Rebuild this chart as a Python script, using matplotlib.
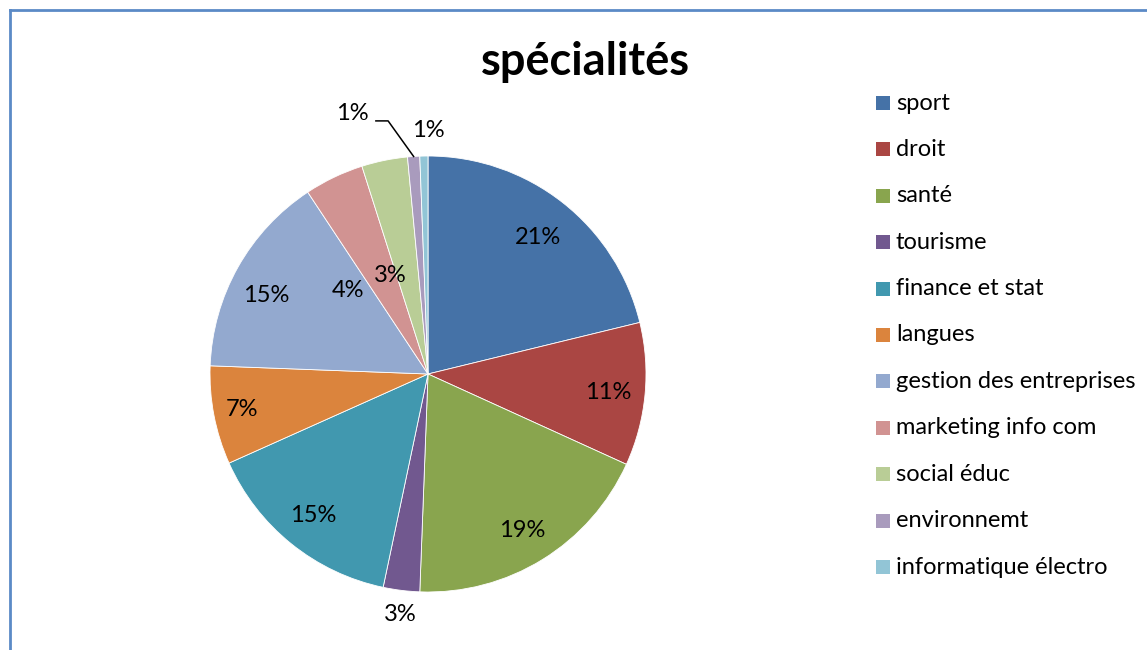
import matplotlib
matplotlib.use("Agg")
import matplotlib.pyplot as plt
from matplotlib.patches import Rectangle
from matplotlib.lines import Line2D
import numpy as np

plt.rcParams['font.family'] = ['Lato', 'DejaVu Sans']

# data (percent)
categories = ["sport", "droit", "santé", "tourisme", "finance et stat", "langues",
              "gestion des entreprises", "marketing info com", "social éduc",
              "environnemt", "informatique électro"]
values = [21.2, 10.6, 18.8, 2.7, 15.0, 7.3, 15.1, 4.4, 3.4, 0.9, 0.6]
shown = ["21%", "11%", "19%", "3%", "15%", "7%", "15%", "4%", "3%", "1%", "1%"]

colors = ["#4572A7", "#AA4643", "#89A54E", "#71588F", "#4198AF", "#DB843D",
          "#93A9CF", "#D19392", "#B9CD96", "#A99BBD", "#92C5D6"]

# label positions in pie radius units (as Excel placed them)
label_pos = [(0.505, 0.628), (0.826, -0.083), (0.431, -0.716), (-0.128, -1.101),
             (-0.528, -0.651), (-0.853, -0.165), (-0.743, 0.358), (-0.367, 0.381),
             (-0.174, 0.454), (-0.349, 1.193), (0.0, 1.119)]

W, H = 1147, 650
fig = plt.figure(figsize=(W / 100, H / 100), dpi=100)

cx, cy, R = 428, 374, 218
ax = fig.add_axes([(cx - R) / W, (H - cy - R) / H, 2 * R / W, 2 * R / H])

wedges, _ = ax.pie(values, colors=colors, startangle=90, counterclock=False,
                   radius=1, wedgeprops=dict(edgecolor="white", linewidth=0.6))
ax.set_xlim(-1, 1)
ax.set_ylim(-1, 1)
ax.axis("off")

for (x, y), s in zip(label_pos, shown):
    ax.text(x, y, s, ha="center", va="center", fontsize=17, color="black",
            clip_on=False)

# leader line for environnemt
w = wedges[9]
mid = np.deg2rad((w.theta1 + w.theta2) / 2)
ex, ey = np.cos(mid), np.sin(mid)
ax.add_line(Line2D([-0.239, -0.183, ex], [1.161, 1.161, ey], color="black",
                   linewidth=1.1, clip_on=False))

fig.text(585 / W, 1 - 62 / H, "spécialités", ha="center", va="center",
         fontsize=32.5, fontweight="bold")

# legend
row0, step = 103, 46.4
for i, (name, c) in enumerate(zip(categories, colors)):
    yc = row0 + i * step
    fig.patches.append(Rectangle((876 / W, 1 - (yc + 7) / H), 14 / W, 14 / H,
                                 transform=fig.transFigure, facecolor=c,
                                 edgecolor="none"))
    fig.text(896 / W, 1 - yc / H, name, ha="left", va="center", fontsize=17)

# chart border (top and left visible)
fig.add_artist(Line2D([9.5 / W, 9.5 / W], [0, 1 - 10 / H], transform=fig.transFigure,
                      color="#5B8AC6", linewidth=2))
fig.add_artist(Line2D([9.5 / W, 1], [1 - 10 / H, 1 - 10 / H], transform=fig.transFigure,
                      color="#5B8AC6", linewidth=2))

fig.savefig("out.png", dpi=100)
